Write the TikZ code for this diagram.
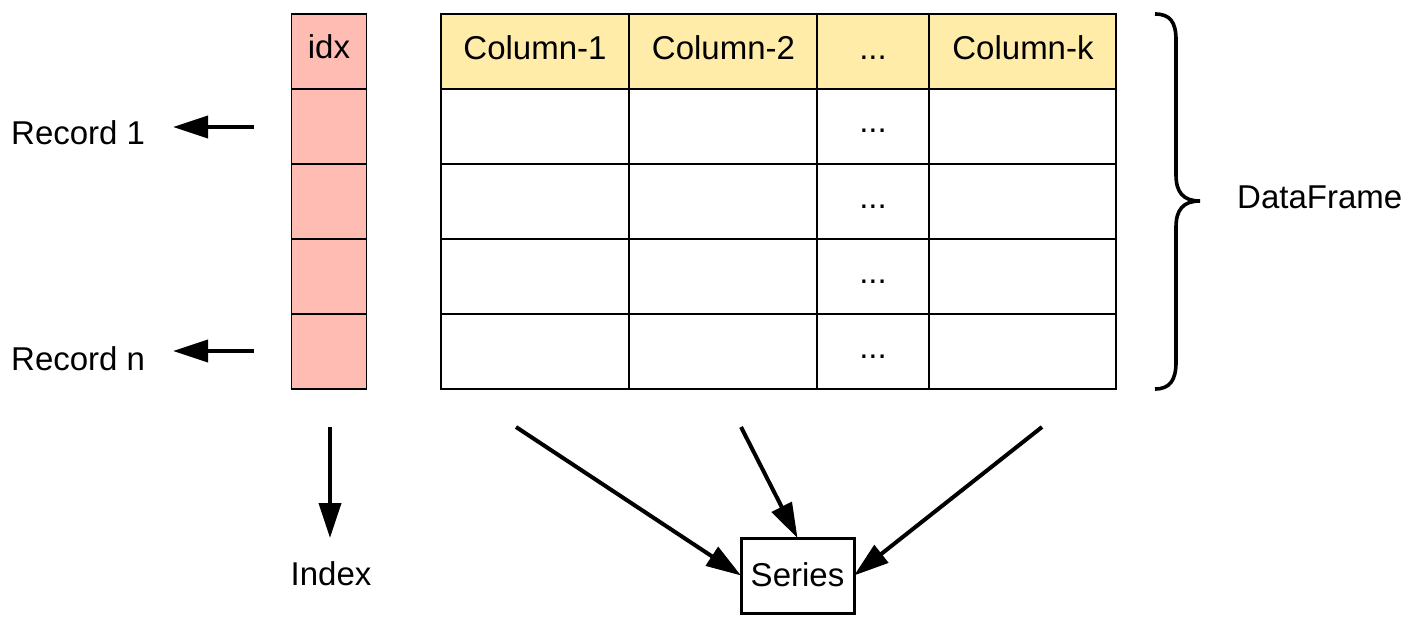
\documentclass[tikz,border=0pt]{standalone}
\usepackage{fontspec}
\setmainfont{Liberation Sans}
\usetikzlibrary{arrows.meta}
\definecolor{idxfill}{HTML}{FFBCB3}
\definecolor{headfill}{HTML}{FFECA8}
\begin{document}
\begin{tikzpicture}[x=1pt,y=-1pt,
  font=\fontsize{33}{40}\selectfont,
  cell/.style={draw, line width=1.2pt, minimum height=75pt, inner sep=0pt, outer sep=0pt, anchor=north west},
  txt/.style={anchor=base, inner sep=0pt},
  arr/.style={line width=4pt, -{Triangle[length=35pt,width=22pt]}},
]
\useasboundingbox (0,0) rectangle (1413,631);
% index column
\node[cell, fill=idxfill, minimum width=75pt] (i0) at (291.5,14) {};
\foreach \r in {1,...,4}
  \node[cell, fill=idxfill, minimum width=75pt] (i\r) at (291.5,14+75*\r) {};
% table
\foreach \x/\w/\n in {441/188/1, 629/188/2, 817/112/3, 929/187/4} {
  \node[cell, fill=headfill, minimum width=\w pt] (h\n) at (\x,14) {};
  \foreach \r in {1,...,4}
    \node[cell, minimum width=\w pt] (c\n\r) at (\x,14+75*\r) {};
}
\draw[line width=2pt] (h1.north east) -- (c14.south east);
\draw[line width=2pt] (h3.north east) -- (c34.south east);
% texts
\node[txt] (tidx) at (329,59) {idx};
\node[txt] (tc1) at (535,60) {Column-1};
\node[txt] (tc2) at (723.5,60) {Column-2};
\node[txt] (tc3) at (873,60) {...};
\node[txt] (tc4) at (1023,60) {Column-k};
\foreach \r in {1,...,4}
  \node[txt] (d\r) at (873,133+75*\r-75) {...};
\node[anchor=base west, inner sep=0pt] (rec1) at (11,145) {Record 1};
\node[anchor=base west, inner sep=0pt] (recn) at (11,370) {Record n};
\node[anchor=base west, inner sep=0pt] (df) at (1237,209) {DataFrame};
\node[txt] (index) at (331,585) {Index};
\node[draw, line width=3pt, minimum width=113pt, minimum height=75pt, inner sep=0pt, outer sep=0pt] (s) at (797.5,575.5) {\raisebox{2pt}{Series}};
% connector coordinates
\coordinate (a1s) at (254,127);
\coordinate (a1e) at (173,127);
\coordinate (ans) at (254,351);
\coordinate (ane) at (173,351);
\coordinate (ia1) at (330,427);
\coordinate (ia2) at (330,538);
\coordinate (p1) at (516,427);
\coordinate (p2) at (741,427);
\coordinate (p3) at (1042,427);
\draw[arr] (a1s) -- (a1e);
\draw[arr] (ans) -- (ane);
\draw[arr] (ia1) -- (ia2);
\draw[arr] (p1) -- (s.west);
\draw[arr] (p2) -- (s.north);
\draw[arr] (p3) -- (s.east);
% brace
\draw[line width=3.6pt] (1155,14) .. controls (1170,14) and (1176,22) .. (1176,40)
  -- (1176,175) .. controls (1176,192) and (1183,201) .. (1200,201)
  .. controls (1183,201) and (1176,210) .. (1176,227)
  -- (1176,362) .. controls (1176,380) and (1170,389) .. (1155,389);
\end{tikzpicture}
\end{document}
